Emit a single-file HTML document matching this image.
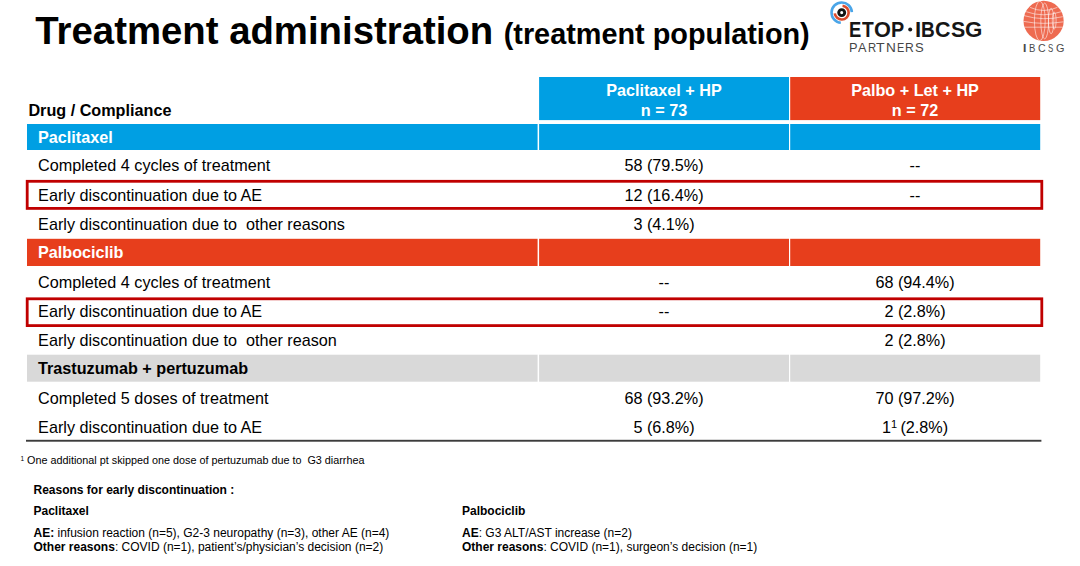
<!DOCTYPE html>
<html>
<head>
<meta charset="utf-8">
<title>Treatment administration</title>
<style>
html,body{margin:0;padding:0;background:#fff;}
body{width:1080px;height:566px;position:relative;overflow:hidden;font-family:"Liberation Sans",sans-serif;color:#000;}
.a{position:absolute;white-space:nowrap;line-height:1;}
.b{font-weight:bold;}
.bar{position:absolute;}
.blue{background:#009fe3;}
.red{background:#e73e1c;}
.gray{background:#d9d9d9;}
.t{font-size:16.2px;left:38.1px;}
.c2{left:539px;width:250px;text-align:center;font-size:16.2px;}
.c3{left:790px;width:250px;text-align:center;font-size:16.2px;}
.hd{font-size:16.2px;font-weight:bold;color:#fff;}
.box{position:absolute;left:26px;width:1009.5px;border:2.7px solid #c00000;box-sizing:content-box;}
.s{font-size:12px;}
.lg{transform-origin:0 0;display:block;}
</style>
</head>
<body>
<!-- title -->
<div class="a b" id="t1" style="left:35.3px;top:11.8px;font-size:38.35px;">Treatment administration</div>
<div class="a b" id="t2" style="left:503.7px;top:20.2px;font-size:28.85px;">(treatment population)</div>

<!-- ETOP IBCSG logo -->
<svg class="a" style="left:0;top:0;" width="1080" height="70" viewBox="0 0 1080 70">
  <g fill="none">
    <path d="M 840.82 22.71 A 10.15 10.15 0 1 1 851.84 12.07" stroke="#4aa5e8" stroke-width="2.6"/>
    <path d="M 842.55 5.70 A 6.95 6.95 0 1 1 834.79 13.33" stroke="#dc4b2c" stroke-width="2.6"/>
    <circle cx="841.7" cy="12.6" r="3.0" stroke="#141414" stroke-width="2.9"/>
  </g>
  <circle cx="910.2" cy="29.4" r="2.0" fill="#161616"/>
  <!-- IBCSG globe -->
  <circle cx="1043.6" cy="20.9" r="20.1" fill="#ee6b51"/>
  <g fill="none" stroke="#fff" stroke-opacity="0.72" stroke-width="0.75">
    <ellipse cx="1039.8" cy="20.9" rx="5.4" ry="19.8"/>
    <ellipse cx="1044.7" cy="21" rx="3.9" ry="17.9"/>
    <ellipse cx="1051.1" cy="21" rx="2.7" ry="12.8"/>
    <ellipse cx="1054.2" cy="20.6" rx="1.9" ry="8.5"/>
    <path d="M1030.1 7.4 Q1043.3 13.6 1057.4 7.4"/>
    <path d="M1026.2 11.7 Q1043.3 17.9 1061.2 11.7"/>
    <path d="M1023.9 15.6 Q1043.3 21.2 1062.8 16.7"/>
    <path d="M1023.5 21.4 Q1043.3 25.1 1063.6 21.8"/>
    <path d="M1024.6 27.2 L1062.7 27.2"/>
  </g>
</svg>
<span class="a lg" style="left:848.97px;top:18.8px;font-size:22.1px;font-weight:bold;color:#161616;transform:scaleX(0.831);">E</span>
<span class="a lg" style="left:862.49px;top:18.8px;font-size:22.1px;font-weight:bold;color:#161616;transform:scaleX(0.868);">T</span>
<span class="a lg" style="left:873.91px;top:18.8px;font-size:22.1px;font-weight:bold;color:#161616;transform:scaleX(0.983);">O</span>
<span class="a lg" style="left:891.27px;top:18.8px;font-size:22.1px;font-weight:bold;color:#161616;transform:scaleX(0.895);">P</span>
<span class="a lg" style="left:915.11px;top:18.8px;font-size:22.1px;font-weight:bold;color:#161616;transform:scaleX(1.006);">I</span>
<span class="a lg" style="left:921.43px;top:18.8px;font-size:22.1px;font-weight:bold;color:#161616;transform:scaleX(0.860);">B</span>
<span class="a lg" style="left:934.92px;top:18.8px;font-size:22.1px;font-weight:bold;color:#161616;transform:scaleX(0.969);">C</span>
<span class="a lg" style="left:951.48px;top:18.8px;font-size:22.1px;font-weight:bold;color:#161616;transform:scaleX(0.967);">S</span>
<span class="a lg" style="left:965.18px;top:18.8px;font-size:22.1px;font-weight:bold;color:#161616;transform:scaleX(1.012);">G</span>
<span class="a lg" style="left:849.15px;top:41.1px;font-size:13.5px;font-weight:normal;color:#454545;transform:scaleX(0.947);">P</span>
<span class="a lg" style="left:858.47px;top:41.1px;font-size:13.5px;font-weight:normal;color:#454545;transform:scaleX(0.938);">A</span>
<span class="a lg" style="left:868.37px;top:41.1px;font-size:13.5px;font-weight:normal;color:#454545;transform:scaleX(0.837);">R</span>
<span class="a lg" style="left:876.49px;top:41.1px;font-size:13.5px;font-weight:normal;color:#454545;transform:scaleX(1.047);">T</span>
<span class="a lg" style="left:885.99px;top:41.1px;font-size:13.5px;font-weight:normal;color:#454545;transform:scaleX(1.007);">N</span>
<span class="a lg" style="left:896.61px;top:41.1px;font-size:13.5px;font-weight:normal;color:#454545;transform:scaleX(0.806);">E</span>
<span class="a lg" style="left:905.20px;top:41.1px;font-size:13.5px;font-weight:normal;color:#454545;transform:scaleX(0.899);">R</span>
<span class="a lg" style="left:914.80px;top:41.1px;font-size:13.5px;font-weight:normal;color:#454545;transform:scaleX(0.966);">S</span>

<span class="a lg" style="left:1022.34px;top:43.4px;font-size:11.3px;color:#4a4a4a;transform:scaleX(1.695);">I</span>
<span class="a lg" style="left:1029.11px;top:43.4px;font-size:11.3px;color:#4a4a4a;transform:scaleX(0.848);">B</span>
<span class="a lg" style="left:1037.76px;top:43.4px;font-size:11.3px;color:#4a4a4a;transform:scaleX(0.937);">C</span>
<span class="a lg" style="left:1048.14px;top:43.4px;font-size:11.3px;color:#4a4a4a;transform:scaleX(0.693);">S</span>
<span class="a lg" style="left:1055.86px;top:43.4px;font-size:11.3px;color:#4a4a4a;transform:scaleX(0.962);">G</span>

<!-- table shapes -->
<svg class="a" style="left:0;top:0;" width="1080" height="566" viewBox="0 0 1080 566">
  <g fill="#009fe3">
    <rect x="539.1" y="77" width="249.9" height="43.1"/>
    <rect x="27" y="124" width="510.6" height="26"/>
    <rect x="539.1" y="124" width="249.9" height="26"/>
    <rect x="790.2" y="124" width="250" height="26"/>
  </g>
  <g fill="#e73e1c">
    <rect x="790.2" y="77" width="250" height="43.1"/>
    <rect x="27" y="238.8" width="510.6" height="27.2"/>
    <rect x="539.1" y="238.8" width="249.9" height="27.2"/>
    <rect x="790.2" y="238.8" width="250" height="27.2"/>
  </g>
  <g fill="#d9d9d9">
    <rect x="27" y="354.7" width="510.6" height="27"/>
    <rect x="539.1" y="354.7" width="249.9" height="27"/>
    <rect x="790.2" y="354.7" width="250" height="27"/>
  </g>
  <rect x="26" y="439.8" width="1015.4" height="1.9" fill="#3c3c3c"/>
  <g fill="none" stroke="#c00000" stroke-width="2.8">
    <rect x="27.2" y="181.3" width="1014.6" height="27.1"/>
    <rect x="27.2" y="298.8" width="1014.6" height="26.8"/>
  </g>
</svg>
<!-- header row -->
<div class="a hd c2" style="top:82px;">Paclitaxel + HP</div>
<div class="a hd c2" style="top:101.5px;">n = 73</div>
<div class="a hd c3" style="top:82px;">Palbo + Let + HP</div>
<div class="a hd c3" style="top:101.5px;">n = 72</div>
<div class="a b" style="left:28.4px;top:101.5px;font-size:16.2px;">Drug / Compliance</div>

<!-- Paclitaxel -->
<div class="a hd" style="left:38px;top:128.5px;">Paclitaxel</div>

<div class="a t" style="top:157px;">Completed 4 cycles of treatment</div>
<div class="a c2" style="top:157px;">58 (79.5%)</div>
<div class="a c3" style="top:157px;">--</div>

<div class="a t" style="top:187px;">Early discontinuation due to AE</div>
<div class="a c2" style="top:187px;">12 (16.4%)</div>
<div class="a c3" style="top:187px;">--</div>

<div class="a t" style="top:215.7px;">Early discontinuation due to&nbsp; other reasons</div>
<div class="a c2" style="top:215.7px;">3 (4.1%)</div>

<!-- Palbociclib -->
<div class="a hd" style="left:38px;top:244.4px;">Palbociclib</div>

<div class="a t" style="top:274px;">Completed 4 cycles of treatment</div>
<div class="a c2" style="top:274px;">--</div>
<div class="a c3" style="top:274px;">68 (94.4%)</div>

<div class="a t" style="top:302.6px;">Early discontinuation due to AE</div>
<div class="a c2" style="top:302.6px;">--</div>
<div class="a c3" style="top:302.6px;">2 (2.8%)</div>

<div class="a t" style="top:332px;">Early discontinuation due to&nbsp; other reason</div>
<div class="a c3" style="top:332px;">2 (2.8%)</div>

<!-- Trastuzumab -->
<div class="a b" style="left:38px;top:360px;font-size:16.2px;">Trastuzumab + pertuzumab</div>

<div class="a t" style="top:389.5px;">Completed 5 doses of treatment</div>
<div class="a c2" style="top:389.5px;">68 (93.2%)</div>
<div class="a c3" style="top:389.5px;">70 (97.2%)</div>

<div class="a t" style="top:418.8px;">Early discontinuation due to AE</div>
<div class="a c2" style="top:418.8px;">5 (6.8%)</div>
<div class="a c3" style="top:418.8px;">1<span style="font-size:11px;position:relative;top:-4.6px;margin-right:-1.1px;">1</span> (2.8%)</div>


<!-- footnote -->
<div class="a" style="left:20.5px;top:455px;font-size:10.8px;"><span style="font-size:6.5px;position:relative;top:-3.5px;">1</span> One additional pt skipped one dose of pertuzumab due to&nbsp; G3 diarrhea</div>

<div class="a b s" style="left:33.5px;top:484.1px;">Reasons for early discontinuation :</div>
<div class="a b s" style="left:33.5px;top:505.1px;">Paclitaxel</div>
<div class="a s" style="left:33.5px;top:526.7px;"><b>AE:</b> infusion reaction (n=5), G2-3 neuropathy (n=3), other AE (n=4)</div>
<div class="a s" style="left:33.5px;top:540.7px;"><b>Other reasons</b>: COVID (n=1), patient’s/physician’s decision (n=2)</div>

<div class="a b s" style="left:462px;top:505.1px;">Palbociclib</div>
<div class="a s" style="left:462px;top:526.7px;"><b>AE</b>: G3 ALT/AST increase (n=2)</div>
<div class="a s" style="left:462px;top:540.7px;"><b>Other reasons</b>: COVID (n=1), surgeon’s decision (n=1)</div>
</body>
</html>
